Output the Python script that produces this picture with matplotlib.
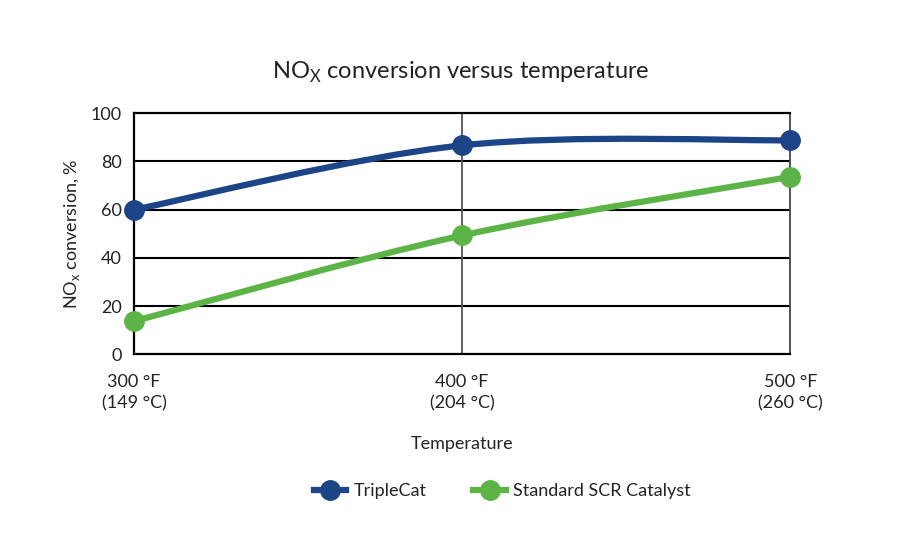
import matplotlib

matplotlib.use("Agg")
import matplotlib.pyplot as plt
import numpy as np
from matplotlib.lines import Line2D
from matplotlib.path import Path
from matplotlib.patches import PathPatch

plt.rcParams["font.family"] = ["Lato", "DejaVu Sans"]
plt.rcParams["mathtext.fontset"] = "custom"
plt.rcParams["mathtext.rm"] = "Lato"

TEMPS_F = [300, 400, 500]
TICK_LABELS = ["300 °F\n(149 °C)", "400 °F\n(204 °C)", "500 °F\n(260 °C)"]
TRIPLECAT = [60, 86.7, 88.8]
STANDARD_SCR = [13.7, 49.3, 73.6]

BLUE = "#1c4587"
GREEN = "#5cb446"


def smooth_path(xs, ys):
    # Excel-style smoothed line: Catmull-Rom segments drawn as cubic Beziers
    pts = np.column_stack([xs, ys]).astype(float)
    ext = np.vstack([pts[0], pts, pts[-1]])
    verts = [pts[0]]
    codes = [Path.MOVETO]
    for i in range(1, len(ext) - 2):
        c1 = ext[i] + (ext[i + 1] - ext[i - 1]) / 6
        c2 = ext[i + 1] - (ext[i + 2] - ext[i]) / 6
        verts += [c1, c2, ext[i + 1]]
        codes += [Path.CURVE4] * 3
    return Path(verts, codes)


fig = plt.figure(figsize=(9, 5.5), dpi=100)
ax = fig.add_axes([0.149, 0.356, 0.729, 0.438])

for ys, color in [(STANDARD_SCR, GREEN), (TRIPLECAT, BLUE)]:
    patch = PathPatch(smooth_path(TEMPS_F, ys), facecolor="none", edgecolor=color,
                      lw=4.5, capstyle="round", joinstyle="round", zorder=3, clip_on=False)
    ax.add_patch(patch)
    ax.plot(TEMPS_F, ys, linestyle="none", marker="o", markersize=14,
            color=color, zorder=4, clip_on=False)

ax.set_xlim(300, 500)
ax.set_ylim(0, 100)
ax.set_yticks(range(0, 101, 20))
ax.set_xticks(TEMPS_F)
ax.set_xticklabels(TICK_LABELS, linespacing=1.4)
ax.tick_params(axis="both", length=0, labelsize=13, colors="#222222")
ax.tick_params(axis="x", pad=14)
ax.tick_params(axis="y", pad=9)

for y in range(20, 100, 20):
    ax.axhline(y, color="black", lw=1.5, zorder=1)
ax.axvline(400, color="#555555", lw=1.3, zorder=1)

for side in ["left", "top", "bottom"]:
    ax.spines[side].set_linewidth(1.6)
    ax.spines[side].set_color("black")
ax.spines["right"].set_linewidth(1.3)
ax.spines["right"].set_color("#444444")

ax.set_ylabel("NO$_\\mathregular{x}$ conversion, %", fontsize=13, labelpad=6, color="#222222")
ax.set_xlabel("Temperature", fontsize=13, labelpad=18, color="#222222")
fig.text(0.512, 0.868, "NO$_\\mathregular{X}$ conversion versus temperature",
         ha="center", va="center", fontsize=17, color="#222222")

handles = [
    Line2D([], [], color=BLUE, lw=4.5, marker="o", markersize=14),
    Line2D([], [], color=GREEN, lw=4.5, marker="o", markersize=14),
]
fig.legend(handles, ["TripleCat", "Standard SCR Catalyst"], loc="center",
           bbox_to_anchor=(0.558, 0.107), ncol=2, frameon=False, fontsize=13,
           handlelength=1.8, columnspacing=2.6, handletextpad=0.4, labelcolor="#222222")

fig.savefig("out.png", dpi=100)
